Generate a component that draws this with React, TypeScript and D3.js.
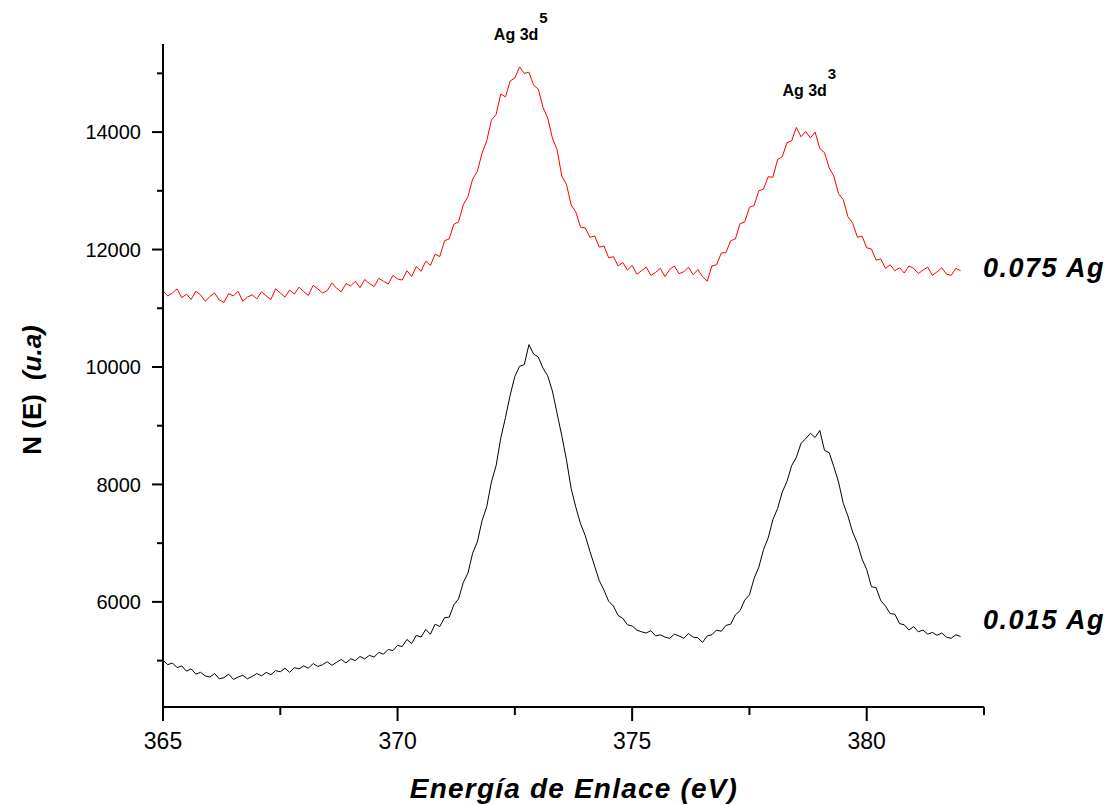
import React from "react";
import * as d3 from "d3";

// Energy grid (eV) of the sampled spectra
const ENERGY_START = 365.0;
const ENERGY_STEP = 0.1;

// 0.075 Ag spectrum (red)
const ag075: number[] = [
  11300, 11210, 11260, 11330, 11180, 11240, 11150, 11290, 11230, 11120,
  11200, 11260, 11140, 11100, 11250, 11210, 11290, 11120, 11190, 11230,
  11160, 11280, 11210, 11150, 11330, 11260, 11190, 11310, 11240, 11360,
  11280, 11220, 11390, 11330, 11260, 11300, 11430, 11340, 11280, 11420,
  11380, 11460, 11350, 11490, 11420, 11370, 11510, 11460, 11410, 11560,
  11500, 11480, 11640, 11540, 11710, 11630, 11800, 11730, 11920, 11880,
  12150, 12180, 12430, 12470, 12760, 12900, 13200, 13330, 13640, 13850,
  14200, 14300, 14650, 14600, 14870, 14920, 15110, 15000, 15020, 14800,
  14730, 14420, 14240, 13900, 13700, 13250, 13110, 12760, 12640, 12380,
  12370, 12210, 12230, 12040, 12060, 11860, 11880, 11720, 11780, 11650,
  11730, 11580, 11640, 11700, 11560, 11610, 11680, 11540, 11660, 11720,
  11590, 11620, 11700, 11570, 11660, 11540, 11460, 11720, 11740, 11940,
  11950, 12150, 12180, 12440, 12470, 12720, 12750, 13000, 13030, 13240,
  13230, 13530, 13580, 13820, 13850, 14080, 13920, 14010, 13900, 14000,
  13720, 13650, 13390, 13250, 12950, 12850, 12560, 12450, 12210, 12230,
  12030, 12010, 11820, 11840, 11680, 11740, 11640, 11690, 11600, 11720,
  11680, 11590, 11650, 11700, 11560, 11620, 11690, 11580, 11560, 11680,
  11640,
];

// 0.015 Ag spectrum (black)
const ag015: number[] = [
  5010, 4930, 4960, 4880, 4910, 4820, 4860, 4770, 4800, 4740,
  4720, 4780, 4690, 4710, 4770, 4680, 4720, 4750, 4690, 4730,
  4780, 4740, 4800, 4760, 4830, 4810, 4870, 4800, 4880, 4860,
  4910, 4870, 4950, 4900, 4930, 4980, 4920, 4970, 5020, 4960,
  5030, 5000, 5070, 5030, 5090, 5060, 5140, 5110, 5190, 5170,
  5260, 5240, 5360, 5290, 5430, 5400, 5530, 5450, 5620, 5580,
  5730, 5740, 5950, 6050, 6330, 6490, 6830, 7020, 7380, 7620,
  8040, 8320, 8790, 9140, 9520, 9840, 10010, 10040, 10380, 10220,
  10170, 9980, 9850, 9590, 9210, 8830, 8420, 7930, 7610, 7330,
  7130, 6860, 6610, 6360, 6200, 6010, 5930, 5770, 5720, 5610,
  5590, 5520, 5490, 5470, 5510, 5420, 5440, 5400, 5380, 5450,
  5420, 5380, 5460, 5400, 5390, 5310, 5420, 5440, 5520, 5500,
  5600, 5620, 5780, 5850, 6030, 6120, 6400, 6590, 6890, 7090,
  7400, 7590, 7870, 8050, 8320, 8460, 8700, 8780, 8870, 8800,
  8920, 8580, 8540, 8300, 8040, 7680, 7460, 7190, 7000, 6730,
  6550, 6260, 6240, 6020, 5930, 5800, 5790, 5630, 5610, 5520,
  5580, 5490, 5520, 5450, 5480, 5430, 5470, 5400, 5380, 5440,
  5410,
];

const xMajorTicks = [365, 370, 375, 380];
const xMinorTicks = [367.5, 372.5, 377.5, 382.5];
const yMajorTicks = [6000, 8000, 10000, 12000, 14000];
const yMinorTicks = [5000, 7000, 9000, 11000, 13000, 15000];

const seriesLabels = ["0.075 Ag", "0.015 Ag"];
const seriesLabelValues = [11540, 5540];
const peakLabels = [
  { text: "Ag 3d", sup: "5", energy: 373.0, value: 15000 },
  { text: "Ag 3d", sup: "3", energy: 379.15, value: 14050 },
];

const FONT = "'Liberation Sans', Arial, Helvetica, sans-serif";

export default function App() {
  const x = d3.scaleLinear().domain([365, 382.5]).range([163, 984]);
  const y = d3.scaleLinear().domain([4210, 15500]).range([707, 44]);

  const energies = ag075.map((_, i) => ENERGY_START + i * ENERGY_STEP);
  const line = d3
    .line<number>()
    .x((_, i) => x(energies[i]))
    .y((d) => y(d));

  const x0 = x.range()[0];
  const x1 = x.range()[1];
  const y0 = y.range()[0];
  const y1 = y.range()[1];

  return (
    <svg
      width={1114}
      height={805}
      style={{ position: "absolute", left: 0, top: 0, background: "#fff" }}
      fontFamily={FONT}
    >
      <rect width={1114} height={805} fill="#fff" />
      {/* data */}
      <path d={line(ag075) || ""} fill="none" stroke="#ff0000" strokeWidth={1} />
      <path d={line(ag015) || ""} fill="none" stroke="#000" strokeWidth={1} />

      {/* axes */}
      <line x1={x0} x2={x0} y1={y1} y2={y0} stroke="#000" strokeWidth={2} />
      <line x1={x0} x2={x1} y1={y0} y2={y0} stroke="#000" strokeWidth={2} />

      {xMajorTicks.map((t) => (
        <g key={"xm" + t}>
          <line x1={x(t)} x2={x(t)} y1={y0} y2={y0 + 14} stroke="#000" strokeWidth={2} />
          <text x={x(t)} y={y0 + 42} fontSize={23} textAnchor="middle" fill="#000">
            {t}
          </text>
        </g>
      ))}
      {xMinorTicks.map((t) => (
        <line key={"xn" + t} x1={x(t)} x2={x(t)} y1={y0} y2={y0 + 8} stroke="#000" strokeWidth={2} />
      ))}
      {yMajorTicks.map((t) => (
        <g key={"ym" + t}>
          <line x1={x0} x2={x0 - 11} y1={y(t)} y2={y(t)} stroke="#000" strokeWidth={2} />
          <text x={x0 - 22} y={y(t)} dy="0.36em" fontSize={20} textAnchor="end" fill="#000">
            {t}
          </text>
        </g>
      ))}
      {yMinorTicks.map((t) => (
        <line key={"yn" + t} x1={x0} x2={x0 - 6} y1={y(t)} y2={y(t)} stroke="#000" strokeWidth={2} />
      ))}

      {/* axis titles */}
      <text
        x={574}
        y={798}
        fontSize={28}
        letterSpacing={1.2}
        fontWeight="bold"
        fontStyle="italic"
        textAnchor="middle"
        fill="#000"
      >
        Energía de Enlace (eV)
      </text>
      <text
        transform="translate(41,390) rotate(-90)"
        fontSize={26}
        fontWeight="bold"
        textAnchor="middle"
        fill="#000"
      >
        N (E)
        <tspan fontStyle="italic" dx={14}>(u.a)</tspan>
      </text>

      {/* peak annotations */}
      {peakLabels.map((p, i) => (
        <g key={"pk" + i}>
          <text
            x={x(p.energy)}
            y={y(p.value) - 33}
            fontSize={16}
            fontWeight="bold"
            textAnchor="end"
            fill="#000"
          >
            {p.text}
          </text>
          <text
            x={x(p.energy) + 1}
            y={y(p.value) - 50}
            fontSize={15}
            fontWeight="bold"
            textAnchor="start"
            fill="#000"
          >
            {p.sup}
          </text>
        </g>
      ))}

      {/* series labels */}
      {seriesLabels.map((s, i) => (
        <text
          key={s}
          x={983}
          y={y(seriesLabelValues[i])}
          fontSize={27}
          letterSpacing={1.5}
          fontWeight="bold"
          fontStyle="italic"
          fill="#000"
        >
          {s}
        </text>
      ))}
    </svg>
  );
}
